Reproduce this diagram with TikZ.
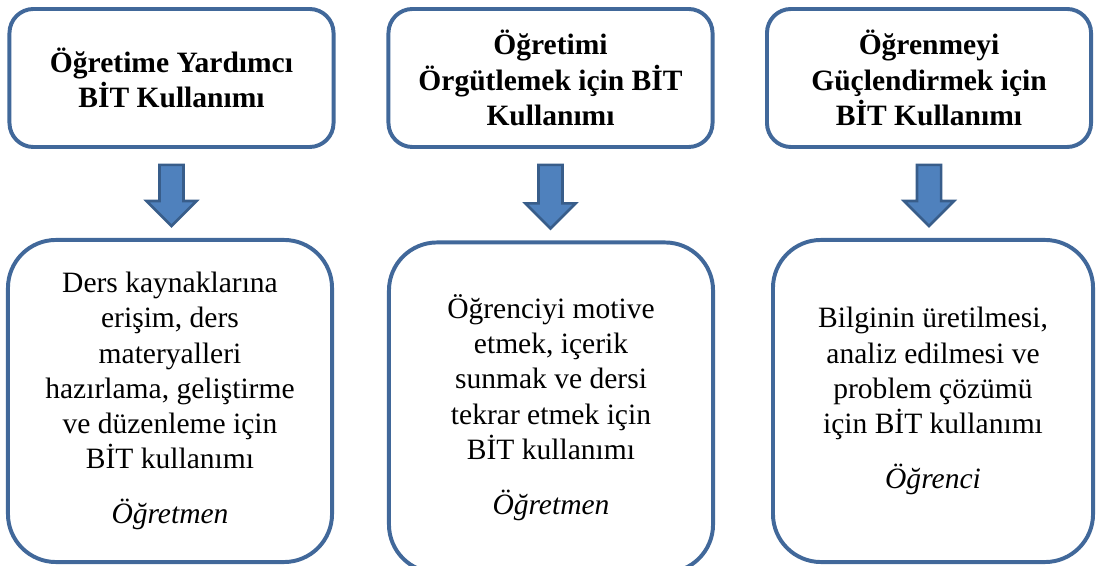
\documentclass[tikz,border=0pt]{standalone}
\usepackage{fontspec}
\setmainfont{Liberation Serif}
\usetikzlibrary{calc}
\definecolor{boxline}{RGB}{65,104,154}
\definecolor{arrowfill}{RGB}{79,129,189}
\definecolor{arrowline}{RGB}{56,93,138}

\begin{document}
\begin{tikzpicture}[x=0.025cm, y=0.025cm,
    box/.style={draw=boxline, line width=2.8pt, fill=white, align=center,
      font=\fontsize{21}{25}\selectfont, inner sep=0pt},
    topbox/.style={box, rounded corners=0.6cm, minimum width=8.1cm, minimum height=3.45cm, font=\fontsize{21}{25}\selectfont\bfseries},
    botbox/.style={box, rounded corners=1.2cm, minimum width=8.1cm},
    fatarrow/.style={fill=arrowfill, draw=arrowline, line width=1.8pt, line join=miter}]
    \clip (0,0) rectangle (1096,565);
    \node[topbox] (t1) at (171.5,487) {Öğretime Yardımcı\\BİT Kullanımı};
    \node[topbox] (t2) at (550.5,487) {Öğretimi\\Örgütlemek için BİT\\Kullanımı};
    \node[topbox] (t3) at (929,487) {Öğrenmeyi\\Güçlendirmek için\\BİT Kullanımı};
    \node[botbox, minimum height=8.05cm] (b1) at (170,164) {Ders kaynaklarına\\erişim, ders\\materyalleri\\hazırlama, geliştirme\\ve düzenleme için\\BİT kullanımı\\[14pt]\textit{Öğretmen}};
    \node[botbox, minimum height=8.25cm] (b2) at (551,157.5) {Öğrenciyi motive\\etmek, içerik\\sunmak ve dersi\\tekrar etmek için\\BİT kullanımı\\[14pt]\textit{Öğretmen}};
    \node[botbox, minimum width=8cm, minimum height=8.05cm] (b3) at (933,164) {Bilginin üretilmesi,\\analiz edilmesi ve\\problem çözümü\\için BİT kullanımı\\[14pt]\textit{Öğrenci}};
    % block arrows between the rows
    \foreach \i in {1,2,3}
      \draw[fatarrow] ($(t\i.south)+(-12,-16)$) -- ($(t\i.south)+(12,-16)$) -- ($(t\i.south |- b\i.north)+(12,37)$) -- ++(13,0) -- ($(t\i.south |- b\i.north)+(0,12)$) -- ($(t\i.south |- b\i.north)+(-25,37)$) -- ++(13,0) -- cycle;
\end{tikzpicture}
\end{document}
